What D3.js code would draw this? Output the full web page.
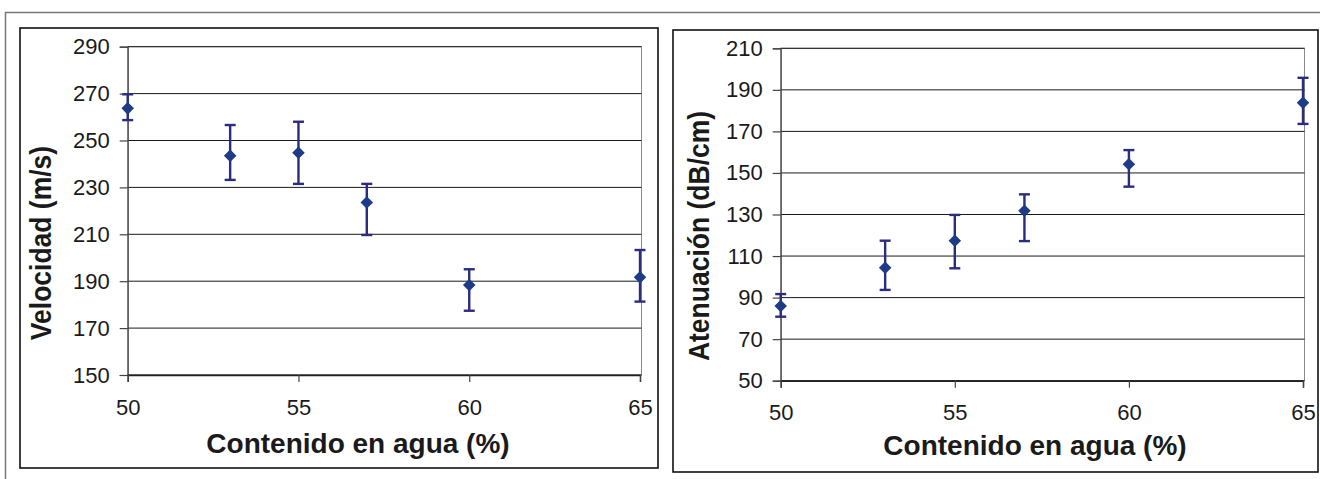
<!DOCTYPE html>
<html>
<head>
<meta charset="utf-8">
<script src="https://cdn.jsdelivr.net/npm/d3@7"></script>
<style>
  body { margin: 0; background: #fff; }
  svg { display: block; font-family: "Liberation Sans", Arial, sans-serif; }
</style>
</head>
<body>
<div id="viz"></div>
<script>
// water content (%) shared by both panels
const waterContent = [50, 53, 55, 57, 60, 65];

// left panel: velocity (m/s) with error bar ends
const velocity = [263.7, 243.5, 244.8, 223.6, 188.4, 191.7];
const velocityHigh = [269.7, 256.6, 258.0, 231.5, 195.1, 203.3];
const velocityLow = [258.7, 233.2, 231.5, 209.7, 177.4, 181.3];

// right panel: attenuation (dB/cm) with error bar ends
const attenuation = [86.0, 104.4, 117.4, 131.8, 154.2, 183.8];
const attenuationHigh = [91.7, 117.4, 129.8, 139.7, 161.0, 195.8];
const attenuationLow = [80.8, 93.7, 104.1, 117.2, 143.4, 173.6];

// tick labels
const xTicks = [50, 55, 60, 65];
const velocityTicks = [150, 170, 190, 210, 230, 250, 270, 290];
const attenuationTicks = [50, 70, 90, 110, 130, 150, 170, 190, 210];

const xTitle = "Contenido en agua (%)";

const width = 1320;
const height = 479;

const markerColor = "#1d3b86";
const barColor = "#2b2c80";

const svg = d3
  .select("#viz")
  .append("svg")
  .attr("width", width)
  .attr("height", height);

// outer scan frame
svg
  .append("path")
  .attr("d", `M5.5,${height} V12.5 H${width}`)
  .attr("fill", "none")
  .attr("stroke", "#777")
  .attr("stroke-width", 1.5);

/**
 * Draws one panel: box, grid, axes, points with error bars
 */
function drawPanel(opts) {
  const { box, plot, yTicks, values, high, low, yTitle, yTitlePos, xTitlePos } = opts;

  // panel box
  svg
    .append("rect")
    .attr("x", box.x)
    .attr("y", box.y)
    .attr("width", box.w)
    .attr("height", box.h)
    .attr("fill", "none")
    .attr("stroke", "#111")
    .attr("stroke-width", 1.6);

  const x = d3.scaleLinear().domain([50, 65]).range([plot.left, plot.right]);
  const y = d3
    .scaleLinear()
    .domain(d3.extent(yTicks))
    .range([plot.bottom, plot.top]);

  // plot area border
  svg
    .append("rect")
    .attr("x", plot.left)
    .attr("y", plot.top)
    .attr("width", plot.right - plot.left + 1.5)
    .attr("height", plot.bottom - plot.top)
    .attr("fill", "none")
    .attr("stroke", "#8a8a8a")
    .attr("stroke-width", 1);

  // horizontal gridlines
  svg
    .append("g")
    .selectAll("line")
    .data(yTicks)
    .enter()
    .append("line")
    .attr("x1", plot.left)
    .attr("x2", plot.right + 1.5)
    .attr("y1", (d) => y(d))
    .attr("y2", (d) => y(d))
    .attr("stroke", "#1a1a1a")
    .attr("stroke-width", 1);

  // y axis
  const yAxis = svg
    .append("g")
    .attr("transform", `translate(${plot.left},0)`)
    .call(d3.axisLeft(y).tickValues(yTicks).tickSize(8).tickPadding(10));
  yAxis.select(".domain").attr("stroke", "#444").attr("stroke-width", 1.2);
  yAxis.selectAll(".tick line").attr("stroke", "#444").attr("stroke-width", 1.2);
  yAxis
    .selectAll(".tick text")
    .attr("font-size", 22)
    .attr("font-family", "Liberation Sans, Arial, sans-serif")
    .attr("fill", "#1a1a1a");

  // x axis
  const xAxis = svg
    .append("g")
    .attr("transform", `translate(0,${plot.bottom})`)
    .call(d3.axisBottom(x).tickValues(xTicks).tickSize(7).tickPadding(17));
  xAxis.select(".domain").attr("stroke", "#222").attr("stroke-width", 1.4);
  xAxis.selectAll(".tick line").attr("stroke", "#444").attr("stroke-width", 1.2);
  xAxis
    .selectAll(".tick text")
    .attr("font-size", 22)
    .attr("font-family", "Liberation Sans, Arial, sans-serif")
    .attr("fill", "#1a1a1a");

  const rows = waterContent.map((w, i) => ({ w, v: values[i], hi: high[i], lo: low[i] }));

  // error bars
  const bars = svg.append("g").selectAll("g").data(rows).enter().append("g");
  bars
    .append("line")
    .attr("x1", (d) => x(d.w))
    .attr("x2", (d) => x(d.w))
    .attr("y1", (d) => y(d.hi))
    .attr("y2", (d) => y(d.lo))
    .attr("stroke", barColor)
    .attr("stroke-width", 2.4);
  ["hi", "lo"].forEach((k) => {
    bars
      .append("line")
      .attr("x1", (d) => x(d.w) - 5.5)
      .attr("x2", (d) => x(d.w) + 5.5)
      .attr("y1", (d) => y(d[k]))
      .attr("y2", (d) => y(d[k]))
      .attr("stroke", barColor)
      .attr("stroke-width", 2.4);
  });

  // diamond markers
  svg
    .append("g")
    .selectAll("path")
    .data(rows)
    .enter()
    .append("path")
    .attr("d", d3.symbol(d3.symbolDiamond2, 100))
    .attr("transform", (d) => `translate(${x(d.w)},${y(d.v)})`)
    .attr("fill", markerColor);

  // axis titles
  svg
    .append("text")
    .text(xTitle)
    .attr("x", xTitlePos[0])
    .attr("y", xTitlePos[1])
    .attr("text-anchor", "middle")
    .attr("font-size", 28)
    .attr("font-weight", "bold")
    .attr("fill", "#1a1a1a");

  // y title, glyphs stretched a little like the scan
  svg
    .append("text")
    .text(yTitle)
    .attr(
      "transform",
      `translate(${yTitlePos[0]},${yTitlePos[1]}) rotate(-90) scale(1,1.12)`
    )
    .attr("text-anchor", "middle")
    .attr("font-size", 26.5)
    .attr("font-weight", "bold")
    .attr("fill", "#1a1a1a");
}

drawPanel({
  box: { x: 20, y: 28, w: 638, h: 440 },
  plot: { left: 127.7, right: 640, top: 46.7, bottom: 375 },
  yTicks: velocityTicks,
  values: velocity,
  high: velocityHigh,
  low: velocityLow,
  yTitle: "Velocidad (m/s)",
  yTitlePos: [51, 243],
  xTitlePos: [358, 453],
});

drawPanel({
  box: { x: 673, y: 30, w: 645, h: 442 },
  plot: { left: 780.7, right: 1303, top: 48.3, bottom: 380.7 },
  yTicks: attenuationTicks,
  values: attenuation,
  high: attenuationHigh,
  low: attenuationLow,
  yTitle: "Atenuación (dB/cm)",
  yTitlePos: [709, 236],
  xTitlePos: [1035, 455],
});
</script>
</body>
</html>
